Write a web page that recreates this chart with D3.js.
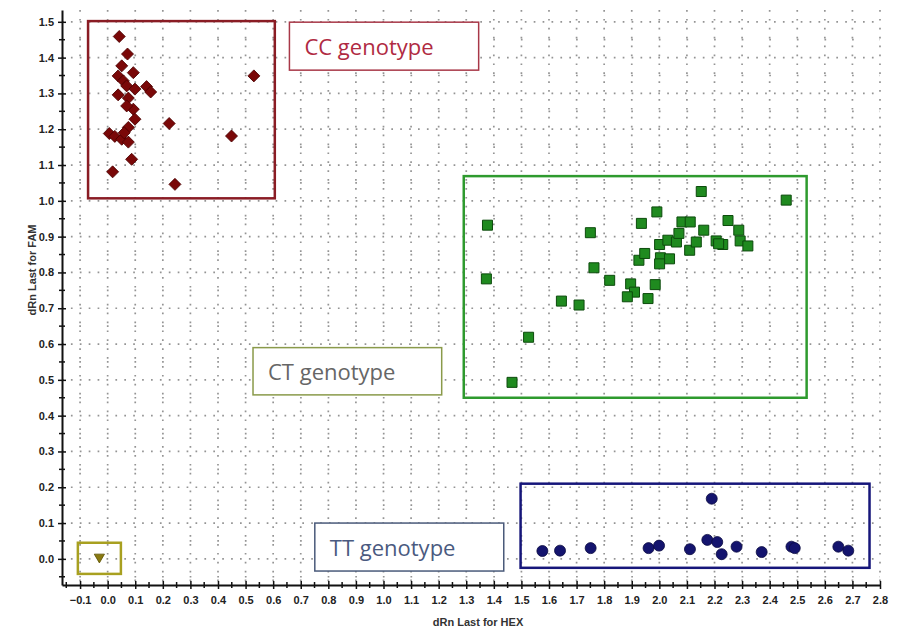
<!DOCTYPE html>
<html>
<head>
<meta charset="utf-8">
<script src="https://cdn.jsdelivr.net/npm/d3@7/dist/d3.min.js"></script>
<style>
  body { margin: 0; background: #fff; }
  svg { display: block; font-family: "Liberation Sans", Arial, sans-serif; }
</style>
</head>
<body>
<div id="chart"></div>
<script>
// allelic discrimination plot: dRn Last for HEX (x) vs dRn Last for FAM (y)
const ccHex = [0.042, 0.072, 0.051, 0.093, 0.038, 0.057, 0.069, 0.099, 0.141, 0.156, 0.038, 0.075, 0.093, 0.069, 0.099, 0.075, 0.006, 0.026, 0.051, 0.075, 0.060, 0.087, 0.018, 0.244, 0.223, 0.449, 0.530];
const ccFam = [1.459, 1.410, 1.377, 1.358, 1.349, 1.335, 1.321, 1.312, 1.319, 1.304, 1.296, 1.287, 1.256, 1.265, 1.228, 1.205, 1.188, 1.180, 1.172, 1.164, 1.190, 1.116, 1.081, 1.046, 1.216, 1.181, 1.349];

const ctHex = [1.377, 1.373, 1.526, 1.466, 1.645, 1.709, 1.763, 1.750, 1.820, 1.896, 1.910, 1.884, 1.959, 1.985, 1.926, 1.947, 1.935, 1.991, 2.004, 2.037, 2.001, 2.001, 2.031, 2.062, 2.071, 2.082, 2.112, 2.110, 2.134, 2.161, 2.152, 2.206, 2.230, 2.249, 2.288, 2.293, 2.321, 2.460, 2.215];
const ctFam = [0.932, 0.782, 0.619, 0.493, 0.720, 0.709, 0.813, 0.911, 0.778, 0.768, 0.745, 0.732, 0.727, 0.766, 0.834, 0.853, 0.937, 0.969, 0.841, 0.838, 0.824, 0.878, 0.890, 0.885, 0.909, 0.941, 0.941, 0.862, 0.885, 0.918, 1.026, 0.888, 0.878, 0.945, 0.918, 0.888, 0.874, 1.002, 0.880];

const ttHex = [1.576, 1.640, 1.751, 1.961, 1.999, 2.111, 2.190, 2.174, 2.210, 2.226, 2.280, 2.371, 2.479, 2.491, 2.649, 2.685];
const ttFam = [0.022, 0.023, 0.030, 0.030, 0.037, 0.027, 0.168, 0.053, 0.047, 0.013, 0.034, 0.019, 0.034, 0.030, 0.034, 0.023];

const ntcHex = [-0.030];
const ntcFam = [0.005];

// cluster regions drawn round each genotype, in data units
const regionNames = ['CC', 'CT', 'TT', 'NTC'];
const regionX0 = [-0.071, 1.291, 1.497, -0.108];
const regionX1 = [0.606, 2.534, 2.762, 0.048];
const regionY0 = [1.007, 0.450, -0.025, -0.042];
const regionY1 = [1.502, 1.069, 0.210, 0.045];

const labelTexts = ['CC genotype', 'CT genotype', 'TT genotype'];
// label boxes (data units)
const labelX0 = [0.659, 0.527, 0.751];
const labelX1 = [1.345, 1.211, 1.436];
const labelY0 = [1.365, 0.458, -0.034];
const labelY1 = [1.499, 0.590, 0.100];

const xTicks = d3.range(-0.1, 2.81, 0.1).map(v => +v.toFixed(2));
const yTicks = d3.range(0, 1.51, 0.1).map(v => +v.toFixed(2));

const width = 897;
const height = 634;

const x = d3.scaleLinear().domain([-0.1655, 2.8]).range([62, 880]);
const y = d3.scaleLinear().domain([-0.073, 1.533]).range([585, 10]);

const svg = d3.select('#chart')
  .append('svg')
  .attr('width', width)
  .attr('height', height);

// dotted grid
const grid = svg.append('g').attr('class', 'grid');
grid.selectAll('line.vx')
  .data(xTicks)
  .enter()
  .append('line')
  .attr('x1', d => x(d)).attr('x2', d => x(d))
  .attr('y1', y.range()[1]).attr('y2', y.range()[0])
  .attr('stroke', '#949494')
  .attr('stroke-width', 1.7)
  .attr('stroke-dasharray', '1.7,7.2');
grid.selectAll('line.hy')
  .data(d3.range(-0.05, 1.53, 0.1).concat(yTicks).map(v => +v.toFixed(2)))
  .enter()
  .append('line')
  .attr('x1', x.range()[0]).attr('x2', x.range()[1])
  .attr('y1', d => y(d)).attr('y2', d => y(d))
  .attr('stroke', '#949494')
  .attr('stroke-width', 1.7)
  .attr('stroke-dasharray', d => (Math.round(d * 100) % 10 === 0 ? '1.7,7.2' : '1.7,25.9'))
  .attr('stroke-dashoffset', d => (Math.round(d * 100) % 10 === 0 ? 0 : -((x(-0.1) - 62) - 0.8)));

// axes
const xAxis = d3.axisBottom(x)
  .tickValues(xTicks)
  .tickFormat(d3.format('.1f'))
  .tickSize(4)
  .tickSizeOuter(0);
const yAxis = d3.axisLeft(y)
  .tickValues(yTicks)
  .tickFormat(d3.format('.1f'))
  .tickSize(4)
  .tickSizeOuter(0);

const gx = svg.append('g').attr('transform', `translate(0,${y.range()[0]})`).call(xAxis);
const gy = svg.append('g').attr('transform', `translate(${x.range()[0]},0)`).call(yAxis);

[gx, gy].forEach(g => {
  g.select('.domain').attr('stroke', '#111').attr('stroke-width', 2);
  g.selectAll('.tick line').attr('stroke', '#111').attr('stroke-width', 1.5);
  g.selectAll('.tick text')
    .attr('fill', '#222')
    .style('font-size', '11px')
    .style('font-weight', 'bold');
});
gx.selectAll('.tick line').attr('y1', -4);
gx.selectAll('.tick text').attr('dy', '1.1em');
gy.selectAll('.tick line').attr('x1', 4);
gy.selectAll('.tick text').attr('x', -8);

// minor ticks every 0.05
gx.selectAll('line.minor')
  .data(d3.range(-0.15, 2.8, 0.1))
  .enter()
  .append('line')
  .attr('x1', d => x(d)).attr('x2', d => x(d))
  .attr('y1', -3).attr('y2', 3)
  .attr('stroke', '#111').attr('stroke-width', 1.5);
gy.selectAll('line.minor')
  .data(d3.range(-0.05, 1.53, 0.1))
  .enter()
  .append('line')
  .attr('y1', d => y(d)).attr('y2', d => y(d))
  .attr('x1', -3).attr('x2', 3)
  .attr('stroke', '#111').attr('stroke-width', 1.5);

svg.append('text')
  .attr('x', 478)
  .attr('y', 626)
  .attr('text-anchor', 'middle')
  .attr('fill', '#333')
  .style('font-size', '11px')
  .style('font-weight', 'bold')
  .text('dRn Last for HEX');

svg.append('text')
  .attr('transform', 'translate(36,270) rotate(-90)')
  .attr('text-anchor', 'middle')
  .attr('fill', '#333')
  .style('font-size', '11px')
  .style('font-weight', 'bold')
  .text('dRn Last for FAM');

// cluster rectangles
const regionColors = ['#8a1c24', '#2e9a2e', '#16167a', '#a8a020'];
svg.append('g')
  .selectAll('rect')
  .data(regionNames)
  .enter()
  .append('rect')
  .attr('x', (d, i) => x(regionX0[i]))
  .attr('y', (d, i) => y(regionY1[i]))
  .attr('width', (d, i) => x(regionX1[i]) - x(regionX0[i]))
  .attr('height', (d, i) => y(regionY0[i]) - y(regionY1[i]))
  .attr('fill', 'none')
  .attr('stroke', (d, i) => regionColors[i])
  .attr('stroke-width', 2.5);

// genotype labels
const labelStroke = ['#a83848', '#8a9a4a', '#4a5a7a'];
const labelFill = ['#b02a42', '#666666', '#4a5a80'];
const labels = svg.append('g')
  .selectAll('g')
  .data(labelTexts)
  .enter()
  .append('g');
labels.append('rect')
  .attr('x', (d, i) => x(labelX0[i]))
  .attr('y', (d, i) => y(labelY1[i]))
  .attr('width', (d, i) => x(labelX1[i]) - x(labelX0[i]))
  .attr('height', (d, i) => y(labelY0[i]) - y(labelY1[i]))
  .attr('fill', '#fff')
  .attr('stroke', (d, i) => labelStroke[i])
  .attr('stroke-width', 1.5);
labels.append('text')
  .attr('x', (d, i) => x(labelX0[i]) + 15)
  .attr('y', (d, i) => (y(labelY0[i]) + y(labelY1[i])) / 2)
  .attr('dominant-baseline', 'central')
  .attr('fill', (d, i) => labelFill[i])
  .style('font-family', '"Open Sans", "Noto Sans", sans-serif')
  .style('font-size', '22px')
  .text(d => d);

// points
const pts = svg.append('g');
pts.selectAll('path.cc')
  .data(d3.zip(ccHex, ccFam))
  .enter()
  .append('path')
  .attr('d', d3.symbol(d3.symbolSquare, 72))
  .attr('transform', d => `translate(${x(d[0])},${y(d[1])}) rotate(45)`)
  .attr('fill', '#7a0808')
  .attr('stroke', '#4a0000')
  .attr('stroke-width', 0.8);

pts.selectAll('path.ct')
  .data(d3.zip(ctHex, ctFam))
  .enter()
  .append('path')
  .attr('d', d3.symbol(d3.symbolSquare, 100))
  .attr('transform', d => `translate(${x(d[0])},${y(d[1])})`)
  .attr('fill', '#1f8a1f')
  .attr('stroke', '#0c4a0c')
  .attr('stroke-width', 1);

pts.selectAll('circle.tt')
  .data(d3.zip(ttHex, ttFam))
  .enter()
  .append('circle')
  .attr('cx', d => x(d[0]))
  .attr('cy', d => y(d[1]))
  .attr('r', 5.5)
  .attr('fill', '#14146e')
  .attr('stroke', '#0a0a40')
  .attr('stroke-width', 0.8);

pts.selectAll('path.ntc')
  .data(d3.zip(ntcHex, ntcFam))
  .enter()
  .append('path')
  .attr('d', d3.symbol(d3.symbolTriangle, 45))
  .attr('transform', d => `translate(${x(d[0])},${y(d[1])}) rotate(180)`)
  .attr('fill', '#8a7a10')
  .attr('stroke', '#5a5000')
  .attr('stroke-width', 0.8);
</script>
</body>
</html>
